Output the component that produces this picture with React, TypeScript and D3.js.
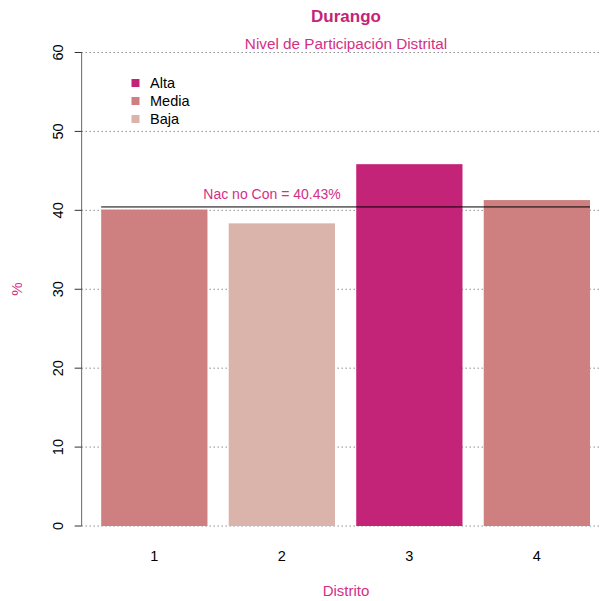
import React from "react";
import * as d3 from "d3";

const districts = ["1", "2", "3", "4"];
const values = [40.1, 38.35, 45.85, 41.3];
const levels = ["Media", "Baja", "Alta", "Media"];
const legendLabels = ["Alta", "Media", "Baja"];
const yTicks = [0, 10, 20, 30, 40, 50, 60];
const nationalValue = 40.43;
const nationalLabel = "Nac no Con = 40.43%";

const colorMap: Record<string, string> = {
  Alta: "#C42478",
  Media: "#CD807F",
  Baja: "#DAB3AB",
};

const W = 600;
const H = 601;
const FONT = "'Liberation Sans', Arial, Helvetica, sans-serif";
const PINK = "#D42F86";

export default function App() {
  const x = d3.scaleLinear().domain([0.2, 4.8]).range([101.2, 590]);
  const y = d3.scaleLinear().domain([0, 60]).range([526, 52.5]);
  const axisX = x(0.016);
  const barW = x(1) - x(0);
  const barLeft = (i: number) => x(0.2 + i * 1.2);
  const centers = districts.map((_, i) => barLeft(i) + barW / 2);

  return (
    <svg width={W} height={H} style={{ position: "absolute", left: 0, top: 0, background: "#fff" }}>
      <rect x={0} y={0} width={W} height={H} fill="#fff" />
      {yTicks.map((t) => (
        <line key={"g" + t} x1={axisX} x2={W} y1={y(t)} y2={y(t)} stroke="#555" strokeWidth={1} strokeDasharray="1,3" />
      ))}
      {values.map((v, i) => (
        <rect key={"b" + i} x={barLeft(i)} y={y(v)} width={barW} height={y(0) - y(v)} fill={colorMap[levels[i]]} />
      ))}
      <line x1={barLeft(0)} x2={barLeft(3) + barW} y1={y(nationalValue)} y2={y(nationalValue)} stroke="#000" strokeWidth={1} />
      <text x={272} y={y(nationalValue) - 8} fill={PINK} fontFamily={FONT} fontSize={14} textAnchor="middle">
        {nationalLabel}
      </text>
      <line x1={axisX} x2={axisX} y1={y(0)} y2={y(60)} stroke="#666" strokeWidth={1} />
      {yTicks.map((t) => (
        <g key={"t" + t}>
          <line x1={axisX - 7} x2={axisX} y1={y(t)} y2={y(t)} stroke="#333" strokeWidth={1} />
          <text transform={`translate(${axisX - 19},${y(t)}) rotate(-90)`} fontFamily={FONT} fontSize={14.5} textAnchor="middle" fill="#000">
            {t}
          </text>
        </g>
      ))}
      {districts.map((d, i) => (
        <text key={"x" + i} x={centers[i]} y={561} fontFamily={FONT} fontSize={14.5} textAnchor="middle" fill="#000">
          {d}
        </text>
      ))}
      <text x={346} y={596} fontFamily={FONT} fontSize={15} textAnchor="middle" fill={PINK}>Distrito</text>
      <text transform={`translate(22,289) rotate(-90)`} fontFamily={FONT} fontSize={15} textAnchor="middle" fill={PINK}>%</text>
      <text x={346} y={22} fontFamily={FONT} fontSize={17} fontWeight="bold" textAnchor="middle" fill="#C42478">Durango</text>
      <text x={346} y={49} fontFamily={FONT} fontSize={15.3} textAnchor="middle" fill={PINK}>Nivel de Participación Distrital</text>
      {legendLabels.map((l, i) => (
        <g key={"l" + l}>
          <rect x={131.5} y={83 + i * 18 - 4} width={8} height={8} fill={colorMap[l]} />
          <text x={150} y={83 + i * 18 + 5} fontFamily={FONT} fontSize={14.5} fill="#000">{l}</text>
        </g>
      ))}
    </svg>
  );
}
